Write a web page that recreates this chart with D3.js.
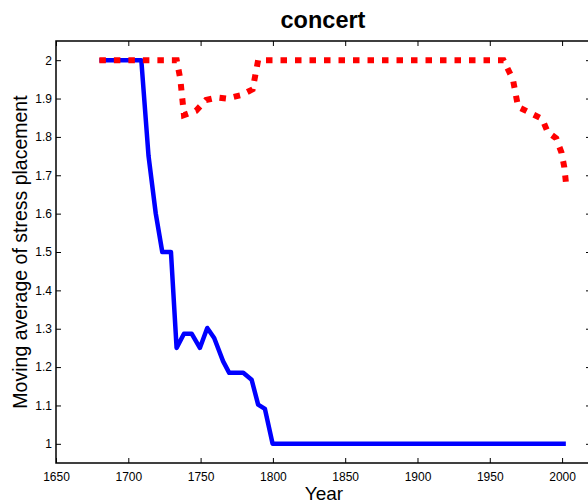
<!DOCTYPE html>
<html>
<head>
<meta charset="utf-8">
<script src="https://cdn.jsdelivr.net/npm/d3@7"></script>
<style>
  body { margin: 0; background: #fff; }
  svg text { font-family: "Liberation Sans", Arial, sans-serif; }
</style>
</head>
<body>
<svg id="chart" width="588" height="503"></svg>
<script>
// blue series (solid)
var blueYears = [1680, 1709, 1714, 1719, 1723.5, 1729.5, 1733.4, 1738.5, 1743.8, 1749.5, 1754.6, 1759.4, 1765.6, 1769.8, 1779.5, 1785.3, 1789.8, 1794.5, 1799.8, 2002.6];
var blueValues = [2, 2, 1.75, 1.6, 1.5, 1.5, 1.25, 1.287, 1.287, 1.25, 1.302, 1.276, 1.215, 1.185, 1.185, 1.167, 1.102, 1.091, 1, 1];

// red series (dotted)
var redYears = [1680, 1733.5, 1736, 1738.5, 1746.8, 1753.7, 1761.5, 1768, 1778, 1786, 1789.8, 1959.5, 1966, 1969.6, 1977.7, 1986.2, 1990, 1996, 1999.6, 2001.5, 2002.6];
var redValues = [2, 2, 1.95, 1.857, 1.868, 1.896, 1.903, 1.9, 1.909, 1.924, 2, 2, 1.95, 1.878, 1.863, 1.847, 1.813, 1.796, 1.759, 1.722, 1.683];

var xTicks = [1650, 1700, 1750, 1800, 1850, 1900, 1950, 2000];
var yTicks = [1, 1.1, 1.2, 1.3, 1.4, 1.5, 1.6, 1.7, 1.8, 1.9, 2];

var plotLeft = 56, plotTop = 41, plotRight = 591, plotBottom = 463;

var svg = d3.select("#chart");

var x = d3.scaleLinear().domain([1650, 2020]).range([plotLeft, plotRight]);
var y = d3.scaleLinear().domain([0.95, 2.05]).range([plotBottom, plotTop]);

var fmt = d3.format("~g");

function styleAxis(g, showText) {
    g.select(".domain").remove();
    g.selectAll(".tick line").attr("stroke", "#000").attr("stroke-width", 1);
    g.selectAll(".tick text").attr("font-size", 12).attr("fill", "#000");
    if (!showText) g.selectAll(".tick text").remove();
}

svg.append("g").attr("transform", "translate(0," + plotBottom + ")")
    .call(d3.axisBottom(x).tickValues(xTicks).tickFormat(fmt).tickSizeInner(-5).tickSizeOuter(0).tickPadding(9))
    .call(function(g) { styleAxis(g, true); });
svg.append("g").attr("transform", "translate(0," + plotTop + ")")
    .call(d3.axisTop(x).tickValues(xTicks).tickSizeInner(-5).tickSizeOuter(0))
    .call(function(g) { styleAxis(g, false); });
svg.append("g").attr("transform", "translate(" + plotLeft + ",0)")
    .call(d3.axisLeft(y).tickValues(yTicks).tickFormat(fmt).tickSizeInner(-5).tickSizeOuter(0).tickPadding(4))
    .call(function(g) { styleAxis(g, true); });
svg.append("g").attr("transform", "translate(" + plotRight + ",0)")
    .call(d3.axisRight(y).tickValues(yTicks).tickSizeInner(-5).tickSizeOuter(0))
    .call(function(g) { styleAxis(g, false); });

svg.append("rect")
    .attr("x", plotLeft).attr("y", plotTop)
    .attr("width", plotRight - plotLeft).attr("height", plotBottom - plotTop)
    .attr("fill", "none").attr("stroke", "#000").attr("stroke-width", 1.5);

var line = d3.line().x(function(d) { return x(d[0]); }).y(function(d) { return y(d[1]); });

svg.append("path")
    .datum(blueYears.map(function(yr, i) { return [yr, blueValues[i]]; }))
    .attr("d", line)
    .attr("fill", "none").attr("stroke", "#0000ff").attr("stroke-width", 4.5)
    .attr("stroke-linejoin", "round");

svg.append("path")
    .datum(redYears.map(function(yr, i) { return [yr, redValues[i]]; }))
    .attr("d", line)
    .attr("fill", "none").attr("stroke", "#ff0000").attr("stroke-width", 6)
    .attr("stroke-dasharray", "6.5,8");

svg.append("text")
    .attr("x", 323).attr("y", 28)
    .attr("text-anchor", "middle").attr("font-size", 23.5).attr("font-weight", "bold")
    .text("concert");

svg.append("text")
    .attr("x", 324).attr("y", 499.5)
    .attr("text-anchor", "middle").attr("font-size", 19)
    .text("Year");

svg.append("text")
    .attr("transform", "translate(27," + (plotTop + plotBottom) / 2 + ") rotate(-90)")
    .attr("text-anchor", "middle").attr("font-size", 19.5)
    .text("Moving average of stress placement");
</script>
</body>
</html>
